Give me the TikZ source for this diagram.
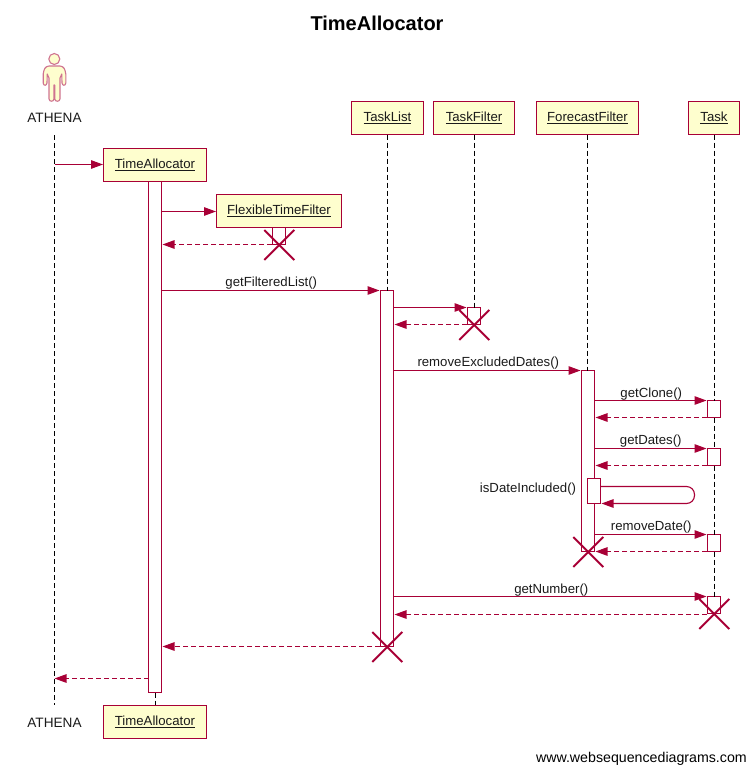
\documentclass[tikz,border=0pt]{standalone}
\usepackage{fontspec}
\setmainfont{Liberation Sans}
\usetikzlibrary{arrows.meta}
\definecolor{seqred}{HTML}{A80036}
\definecolor{seqfill}{HTML}{FEFECE}
\definecolor{seqtext}{HTML}{1A1A1A}
\tikzset{
  x=1pt,y=1pt,
  pbox/.style={draw=seqred,fill=seqfill,line width=1pt,minimum height=33pt,inner sep=0pt,font=\fontsize{13.2}{15}\selectfont,text=seqtext},
  actbar/.style={draw=seqred,fill=white,line width=1pt,minimum width=13pt,inner sep=0pt,outer sep=0pt},
  life/.style={draw=black,line width=1pt,dash pattern=on 5pt off 3pt},
  msg/.style={draw=seqred,line width=1.1pt,-{Triangle[length=12pt,width=8.5pt,fill=seqred]}},
  ret/.style={msg,dash pattern=on 5pt off 3pt},
  gap/.style={shorten >=1pt,shorten <=0.5pt},
  lbl/.style={anchor=base,inner sep=0pt,font=\fontsize{13.2}{15}\selectfont,text=seqtext},
  actorlbl/.style={lbl,font=\fontsize{13.6}{15}\selectfont},
  killx/.style={draw=seqred,line width=2pt},
}
\newcommand{\ul}[1]{\raisebox{-1.8pt}{\underline{#1}}}
\newcommand{\killat}[1]{\draw[killx] ([shift={(-14.7,14.5)}]#1) -- ([shift={(15.3,-15.5)}]#1) ([shift={(-14.7,-15.5)}]#1) -- ([shift={(15.3,14.5)}]#1);}
\begin{document}
\begin{tikzpicture}
\useasboundingbox (0,0) rectangle (755,-772);
\node[anchor=center,inner sep=0pt,font=\bfseries\fontsize{20}{24}\selectfont] (title) at (377,-23) {TimeAllocator};

% participants
\node[actorlbl] (athena) at (54.5,-122.5) {ATHENA};
\node[actorlbl] (athenab) at (54.5,-727) {ATHENA};
\node[pbox,minimum width=103pt] (ta) at (155,-165) {\ul{TimeAllocator}};
\node[pbox,minimum width=103pt] (tab) at (155,-722) {\ul{TimeAllocator}};
\node[pbox,minimum width=125pt] (ftf) at (279,-211) {\ul{FlexibleTimeFilter}};
\node[pbox,minimum width=72pt] (tl) at (387.5,-118) {\ul{TaskList}};
\node[pbox,minimum width=81pt] (tf) at (474,-118) {\ul{TaskFilter}};
\node[pbox,minimum width=102pt] (ff) at (587.5,-118) {\ul{ForecastFilter}};
\node[pbox,minimum width=51pt] (tk) at (714,-118) {\ul{Task}};

% free ends of the actor lifeline
\coordinate (alt) at (54.5,-135);
\coordinate (alb) at (54.5,-705);

% activation bars
\node[actbar,minimum height=511pt,anchor=north] (ata) at (155,-181.5) {};
\node[actbar,minimum height=17pt,anchor=north] (aftf) at (279,-227.5) {};
\node[actbar,minimum height=356pt,anchor=north] (atl) at (387,-290.5) {};
\node[actbar,minimum height=17pt,anchor=north] (atf) at (474,-307.5) {};
\node[actbar,minimum height=181pt,anchor=north] (aff) at (588,-370.5) {};
\node[actbar,minimum height=25pt,anchor=north] (affs) at (594,-478.5) {};
\node[actbar,minimum height=17pt,anchor=north] (atk1) at (714,-400.5) {};
\node[actbar,minimum height=17pt,anchor=north] (atk2) at (714,-448.5) {};
\node[actbar,minimum height=17pt,anchor=north] (atk3) at (714,-534.5) {};
\node[actbar,minimum height=17pt,anchor=north] (atk4) at (714,-596.5) {};

% lifelines
\coordinate (lta) at (155.5,-692.5);
\coordinate (ltl) at (387.5,-134.5);
\coordinate (ltf) at (474.5,-134.5);
\coordinate (lff) at (587.5,-134.5);
\coordinate (ltk) at (714.5,-134.5);
\draw[life] (alt) -- (alb);
\draw[life] (lta) -- (lta |- tab.north);
\draw[life] (ltl) -- (ltl |- atl.north);
\draw[life] (ltf) -- (ltf |- atf.north);
\draw[life] (lff) -- (lff |- aff.north);
\draw[life] (ltk) -- (ltk |- atk1.north);
\draw[life] (ltk |- atk1.south) -- (ltk |- atk2.north);
\draw[life] (ltk |- atk2.south) -- (ltk |- atk3.north);
\draw[life] (ltk |- atk3.south) -- (ltk |- atk4.north);

% actor
\draw[draw=seqred!55,fill=seqfill,line width=1.1pt] (54.3,-59) circle (5.5);
\draw[draw=seqred!55,fill=seqfill,line width=1.1pt,line join=round]
  (49,-66) .. controls (45,-66.5) and (44,-69) .. (43.2,-74)
  -- (43.2,-83) .. controls (43.5,-86) and (46.5,-86) .. (47,-83)
  -- (47.2,-74) -- (49,-78) -- (49,-99) .. controls (49.5,-102) and (53.5,-102) .. (54,-99)
  -- (54,-85) -- (54.7,-85) -- (54.7,-99) .. controls (55.2,-102) and (59.5,-102) .. (60,-99)
  -- (60,-78) -- (61.8,-74) -- (62,-83) .. controls (62.5,-86) and (65.5,-86) .. (65.8,-83)
  -- (65.8,-74) .. controls (65,-69) and (64,-66.5) .. (60,-66) -- cycle;

% messages
\draw[msg] (alt |- 0,-164.5) -- (ta.west |- 0,-164.5);
\draw[msg] (ata.east |- 0,-211.5) -- (ftf.west |- 0,-211.5);
\draw[ret,gap] (aftf.west |- 0,-244.5) -- (ata.east |- 0,-244.5);
\draw[msg,gap] (ata.east |- 0,-290.5) -- (atl.west |- 0,-290.5);
\node[lbl] (m1) at (271.3,-286) {getFilteredList()};
\draw[msg,gap] (atl.east |- 0,-307.5) -- (atf.west |- 0,-307.5);
\draw[ret,gap] (atf.west |- 0,-324.5) -- (atl.east |- 0,-324.5);
\draw[msg,gap] (atl.east |- 0,-370.5) -- (aff.west |- 0,-370.5);
\node[lbl] (m2) at (488.3,-366) {removeExcludedDates()};
\draw[msg,gap] (aff.east |- 0,-400.5) -- (atk1.north west);
\node[lbl] (m3) at (651.3,-397) {getClone()};
\draw[ret,gap] (atk1.west |- 0,-417.5) -- (aff.east |- 0,-417.5);
\draw[msg,gap] (aff.east |- 0,-448.5) -- (atk2.north west);
\node[lbl] (m4) at (650.8,-444) {getDates()};
\draw[ret,gap] (atk2.west |- 0,-465.5) -- (aff.east |- 0,-465.5);
\node[lbl] (m5) at (528,-492) {isDateIncluded()};
\draw[msg,gap,rounded corners=8pt] (affs.east |- 0,-486.5) -- (694.5,-486.5) -- (694.5,-503.5) -- (affs.east |- 0,-503.5);
\draw[msg,gap] (aff.east |- 0,-534.5) -- (atk3.north west);
\node[lbl] (m6) at (651.3,-530) {removeDate()};
\draw[ret,gap] (atk3.west |- 0,-551.5) -- (aff.east |- 0,-551.5);
\draw[msg,gap] (atl.east |- 0,-596.5) -- (atk4.north west);
\node[lbl] (m7) at (551.3,-593) {getNumber()};
\draw[ret,gap] (atk4.west |- 0,-614.5) -- (atl.east |- 0,-614.5);
\draw[ret,gap] (atl.west |- 0,-646.5) -- (ata.east |- 0,-646.5);
\draw[ret] (ata.west |- 0,-678.5) -- (alt |- 0,-678.5);

% destruction marks
\killat{aftf.south}
\killat{atf.south}
\killat{aff.south}
\killat{atk4.south}
\killat{atl.south}

\node[anchor=base east,inner sep=0pt,font=\fontsize{14.2}{16}\selectfont,text=black] (foot) at (747,-762) {www.websequencediagrams.com};
\end{tikzpicture}
\end{document}
